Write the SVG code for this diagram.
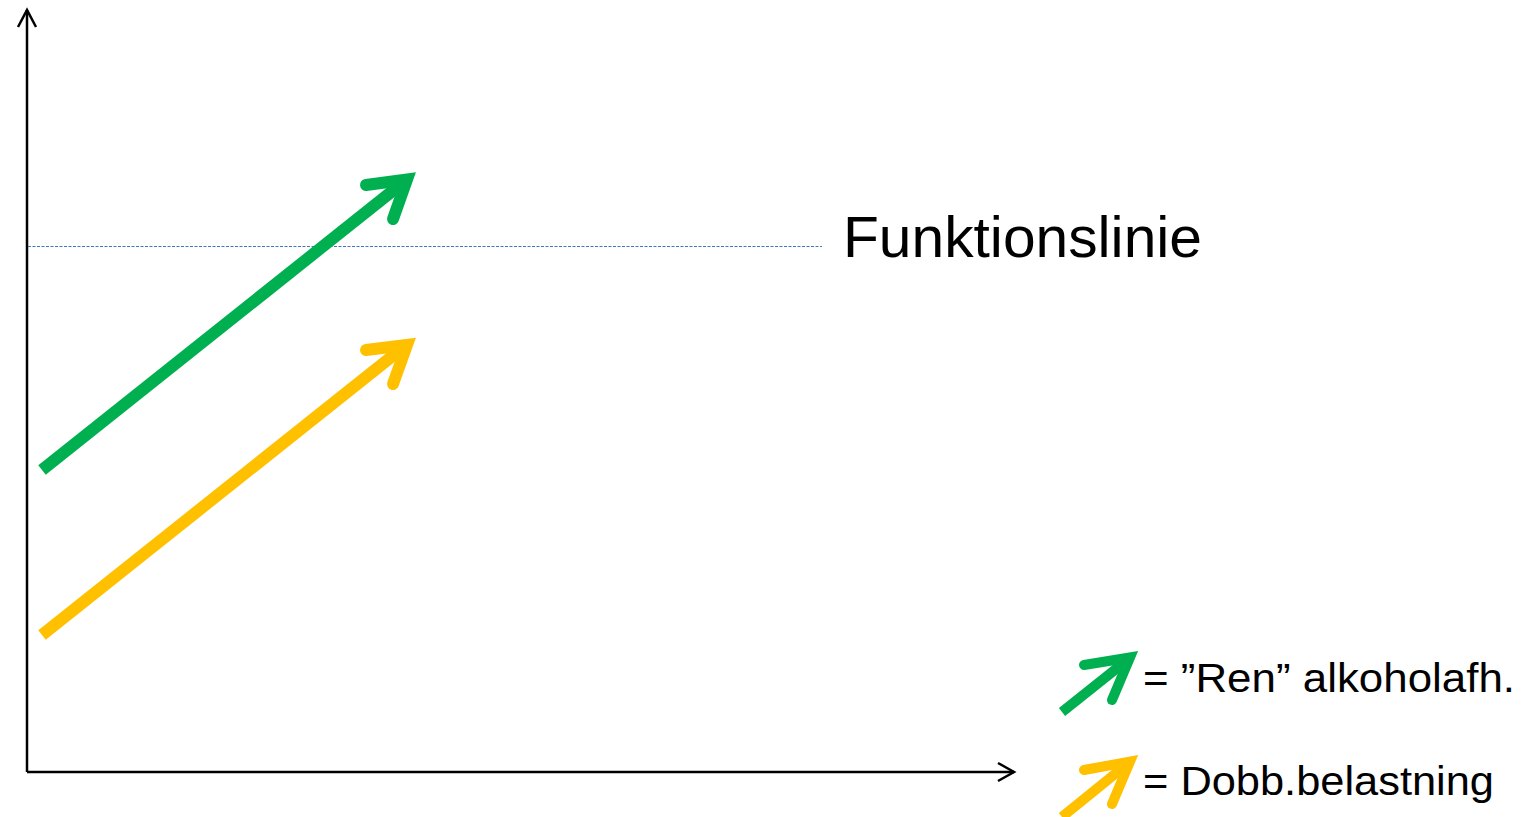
<svg xmlns="http://www.w3.org/2000/svg" width="1528" height="817" viewBox="0 0 1528 817">
  <style>
    .axis { stroke: #000; stroke-width: 2.5; fill: none; }
    .head { stroke-linecap: round; stroke-linejoin: miter; fill: none; }
    .green { stroke: #00B050; }
    .yellow { stroke: #FFC000; }
    .label { font-family: "Liberation Sans", "Open Sans", sans-serif; fill: #000; }
  </style>
  <rect width="1528" height="817" fill="#fff"/>

  <g id="axes">
    <line class="axis" x1="27" y1="772" x2="27" y2="10"/>
    <polyline class="axis" points="18,27 27,10 36,27"/>
    <line class="axis" x1="27" y1="772" x2="1014" y2="772"/>
    <polyline class="axis" points="998,763 1014,772 998,781"/>
  </g>

  <g id="function-line">
    <line x1="28" y1="246.5" x2="822" y2="246.5" stroke="#4472C4" stroke-width="1" stroke-dasharray="3,1.5"/>
    <text class="label" x="843" y="257" font-size="57" textLength="359" lengthAdjust="spacingAndGlyphs">Funktionslinie</text>
  </g>

  <g id="connectors">
    <g id="arrow-green">
      <line class="green" x1="42" y1="470" x2="400" y2="185" stroke-width="12"/>
      <polyline class="head green" points="366,185 407,179.5 393,219" stroke-width="12"/>
    </g>
    <g id="arrow-yellow">
      <line class="yellow" x1="42" y1="635" x2="400" y2="350" stroke-width="12"/>
      <polyline class="head yellow" points="366,350 407,345 393,384" stroke-width="12"/>
    </g>
  </g>

  <g id="legend-green">
    <line class="green" x1="1062" y1="712" x2="1126" y2="661" stroke-width="10"/>
    <polyline class="head green" points="1084,665 1130,657.5 1112,700" stroke-width="10"/>
    <text class="label" x="1143" y="692" font-size="40" textLength="372" lengthAdjust="spacingAndGlyphs">= ”Ren” alkoholafh.</text>
  </g>

  <g id="legend-yellow">
    <line class="yellow" x1="1062" y1="817" x2="1126" y2="765" stroke-width="10"/>
    <polyline class="head yellow" points="1084,770 1130,761.5 1112,804" stroke-width="10"/>
    <text class="label" x="1143" y="795" font-size="40" textLength="351" lengthAdjust="spacingAndGlyphs">= Dobb.belastning</text>
  </g>
</svg>
